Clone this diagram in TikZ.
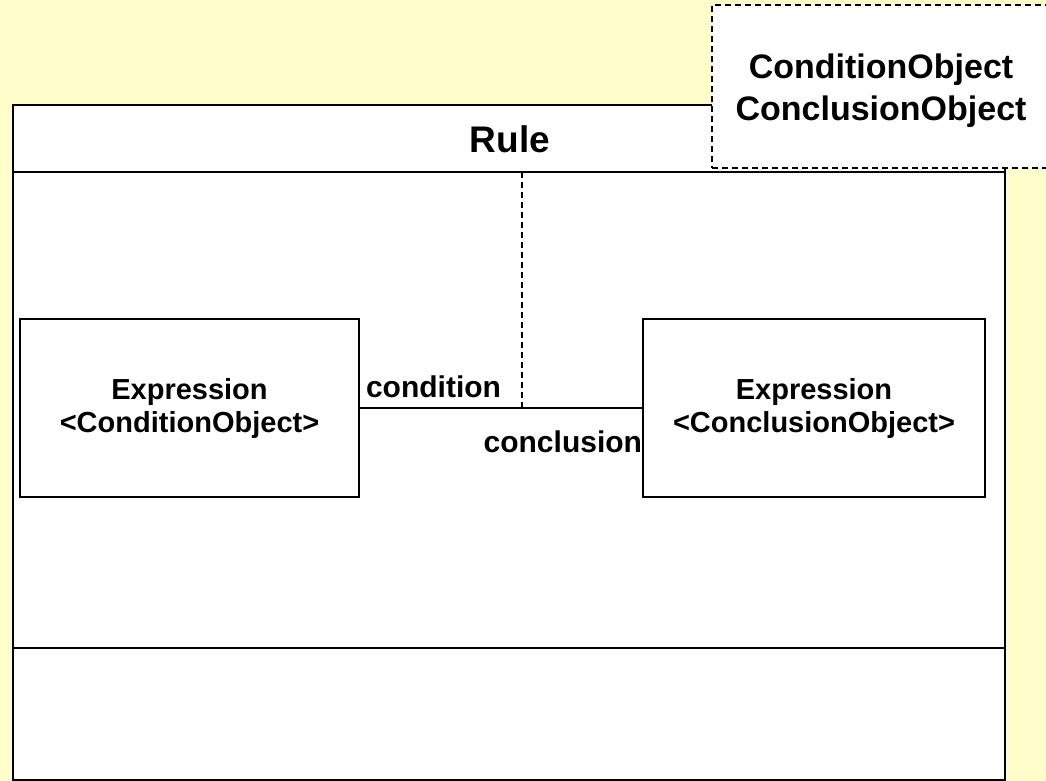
\documentclass[tikz,border=0pt]{standalone}
\usepackage{fontspec}
\setmainfont{Liberation Sans}
\begin{document}
\begin{tikzpicture}[x=1pt,y=-1pt,
  every node/.style={font=\bfseries, inner sep=0pt, outer sep=0pt},
  classline/.style={draw=black, line width=2pt},
  exprbox/.style={draw=black, line width=1.5pt, fill=white, minimum width=339pt, minimum height=178pt, anchor=north west, align=center, font=\bfseries\fontsize{29}{33}\selectfont},
  tmplbox/.style={draw=black, line width=1.5pt, dash pattern=on 6pt off 4pt, fill=white, minimum width=338pt, minimum height=163pt, anchor=north west},
  tmpltext/.style={align=center, font=\bfseries\fontsize{34}{42}\selectfont},
  rolelabel/.style={font=\bfseries\fontsize{30}{36}\selectfont},
  assoc/.style={draw=black, line width=1.3pt},
  anchorline/.style={draw=black, line width=1.3pt, dash pattern=on 6pt off 4pt}]
  \useasboundingbox (0,0) rectangle (1046,781);
  % canvas
  \fill[fill={rgb,255:red,255;green,255;blue,204}] (0,0) rectangle (1046,781);

  % class Rule with its three compartments
  \node[classline, fill=white, minimum width=992pt, minimum height=675pt, anchor=north west] (rule) at (13,105) {};
  \draw[classline] (13,172) -- (1005,172);
  \draw[classline] (13,648) -- (1005,648);
  \node[font=\bfseries\fontsize{37}{44}\selectfont, anchor=base] (rulename) at (510,153) {Rule};

  % parts
  \node[exprbox] (cond) at (20,319) {Expression\\<ConditionObject>};
  \node[exprbox, minimum width=342pt] (concl) at (643,319) {Expression\\<ConclusionObject>};

  % association between the parts and its anchor to the class
  \draw[assoc] (cond.east) -- (concl.west);
  \coordinate (assocmid) at (522,408);
  \coordinate (anchortop) at (522,172);
  \draw[anchorline] (anchortop) -- (assocmid);
  \node[rolelabel, anchor=base west] (condrole) at (366,397) {condition};
  \node[rolelabel, anchor=base east] (conclrole) at (642,452) {conclusion};

  % template parameters (the anchor is the baseline of the last line)
  \node[tmplbox] (tmpl) at (712,5) {};
  \node[tmpltext, anchor=base] (tmplparams) at (881,121) {ConditionObject\\ConclusionObject};
\end{tikzpicture}
\end{document}
